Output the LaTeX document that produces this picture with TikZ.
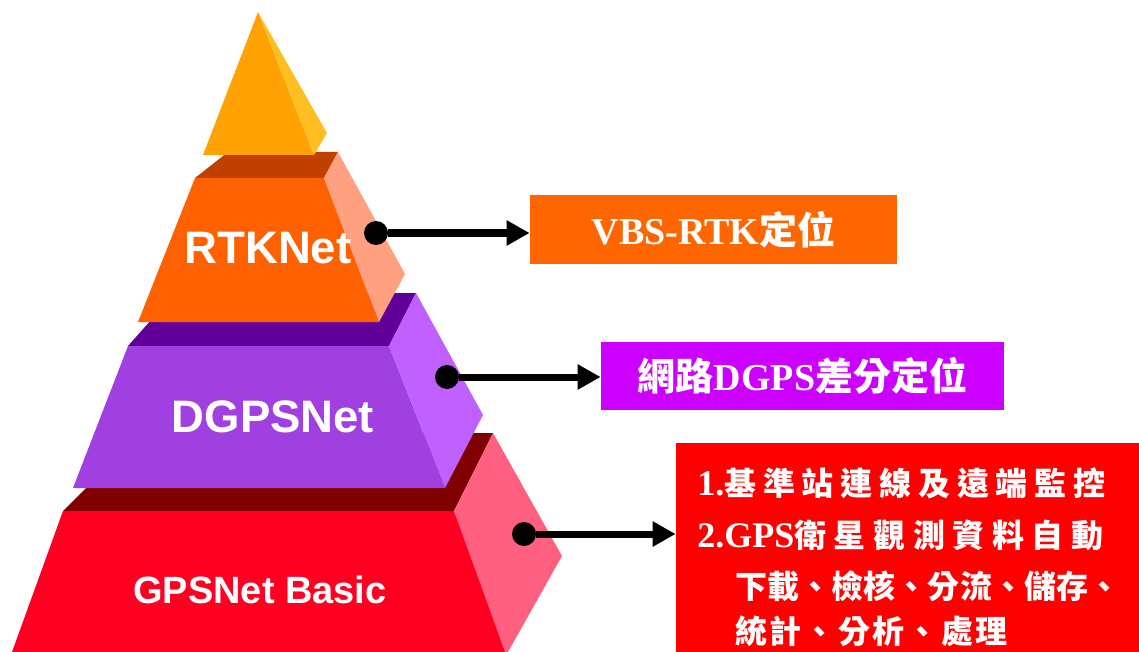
\documentclass[tikz,border=0pt]{standalone}
\usepackage{fontspec}
\setmainfont{Liberation Serif}
\setsansfont{Liberation Sans}
\newfontfamily\cjkfont{Noto Sans CJK TC}
\usetikzlibrary{arrows.meta,positioning}

\definecolor{apexfront}{HTML}{FFA305}
\definecolor{apexside}{HTML}{FFBF22}
\definecolor{rtkfront}{HTML}{FF6000}
\definecolor{rtktop}{HTML}{C04000}
\definecolor{rtkside}{HTML}{FFA080}
\definecolor{dgpsfront}{HTML}{A040E0}
\definecolor{dgpstop}{HTML}{600099}
\definecolor{dgpsside}{HTML}{C060FF}
\definecolor{basicfront}{HTML}{FF0022}
\definecolor{basictop}{HTML}{800000}
\definecolor{basicside}{HTML}{FF6080}
\definecolor{vbsbox}{HTML}{FF6600}
\definecolor{netbox}{HTML}{CC00FF}
\definecolor{taskbox}{HTML}{FF0000}

\newcommand{\zhtxt}[1]{{\cjkfont\bfseries #1}}

\begin{document}
\begin{tikzpicture}
[x=0.5pt,y=-0.5pt,
 layer/.style={font=\sffamily\bfseries\fontsize{22.75}{26}\selectfont,text=white},
 dot/.style={circle,fill=black,inner sep=0pt,minimum size=12pt},
 link/.style={line width=3.5pt,-{Triangle[length=11.5pt,width=12pt]}},
 infobox/.style={fill=#1,inner sep=0pt,text=white,font=\bfseries\fontsize{19}{22}\selectfont},
 taskline/.style={anchor=west,inner sep=0pt,text=white,font=\bfseries\fontsize{18}{20}\selectfont}];
\useasboundingbox (0,0) rectangle (1139,652);

% bottom layer
\fill[basictop] (63,511) -- (141,433) -- (493,433) -- (454,511) -- cycle;
\fill[basicfront] (63,511) -- (454,511) -- (508,652) -- (12,652) -- cycle;
\fill[basicside] (454,511) -- (493,433) -- (562,556) -- (508,652) -- (505,652) -- cycle;
% middle layer
\fill[dgpstop] (128,346) -- (175,293) -- (416,293) -- (389,346) -- cycle;
\fill[dgpsfront] (128,346) -- (389,346) -- (445,488) -- (73,488) -- cycle;
\fill[dgpsside] (389,346) -- (416,293) -- (483,415) -- (445,488) -- cycle;
% upper layer
\fill[rtktop] (195,178) -- (228,152) -- (338,152) -- (324,178) -- cycle;
\fill[rtkfront] (195,178) -- (324,178) -- (379,322) -- (138,322) -- cycle;
\fill[rtkside] (324,178) -- (338,152) -- (405,274) -- (379,322) -- cycle;
% apex
\fill[apexfront] (258,12) -- (314,155) -- (203,155) -- cycle;
\fill[apexside] (258,12) -- (327,133) -- (314,155) -- cycle;

\node[layer] (rtk) at (268,248) {RTKNet};
\node[layer] (dgps) at (273,417) {DGPSNet};
\node[layer,font=\sffamily\bfseries\fontsize{19}{22}\selectfont] (basic) at (260,590) {GPSNet Basic};

\node[dot] (rtkdot) at (376,233) {};
\node[dot] (dgpsdot) at (447,377) {};
\node[dot] (basicdot) at (524,534) {};

\node[infobox=vbsbox,minimum width=183.5pt,minimum height=34.5pt] (vbs) at (713.5,229.5) {VBS-RTK\zhtxt{定位}};
\node[infobox=netbox,minimum width=201.5pt,minimum height=34pt] (net) at (802.5,376) {\zhtxt{網路}DGPS\zhtxt{差分定位}};
\node[fill=taskbox,inner sep=0pt,minimum width=231.5pt,minimum height=104.5pt] (task) at (907.5,547.5) {};

\node[taskline] (task1) at (697,483) {1.\makebox[190.5pt][s]{\zhtxt{\fontsize{16}{18}\selectfont 基\hfill 準\hfill 站\hfill 連\hfill 線\hfill 及\hfill 遠\hfill 端\hfill 監\hfill 控}}};
\node[taskline] (task2) at (697,535) {2.GPS\makebox[154.5pt][s]{\zhtxt{\fontsize{16}{18}\selectfont 衛\hfill 星\hfill 觀\hfill 測\hfill 資\hfill 料\hfill 自\hfill 動}}};
\node[taskline] (task3) at (735,586) {\makebox[192.5pt][s]{\zhtxt{\fontsize{16}{18}\selectfont 下\hfill 載\hfill 、\hfill 檢\hfill 核\hfill 、\hfill 分\hfill 流\hfill 、\hfill 儲\hfill 存\hfill 、}}};
\node[taskline] (task4) at (735,631) {\makebox[136pt][s]{\zhtxt{\fontsize{16}{18}\selectfont 統\hfill 計\hfill 、\hfill 分\hfill 析\hfill 、\hfill 處\hfill 理}}};

\draw[link] (rtkdot) -- (rtkdot -| vbs.west);
\draw[link] (dgpsdot) -- (dgpsdot -| net.west);
\draw[link] (basicdot) -- (basicdot -| task.west);
\end{tikzpicture}
\end{document}
